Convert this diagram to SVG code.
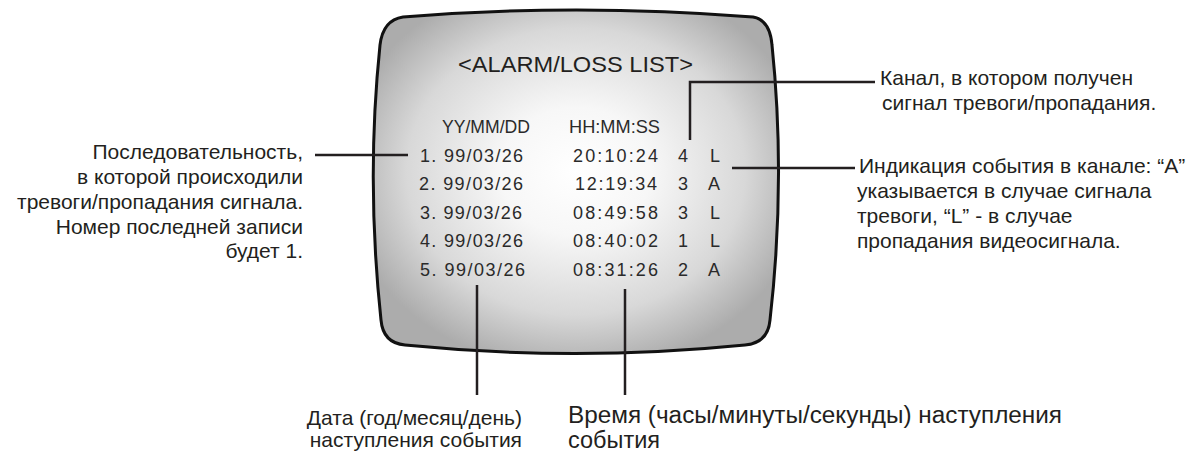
<svg xmlns="http://www.w3.org/2000/svg" width="1198" height="453" viewBox="0 0 1198 453">
<defs>
<radialGradient id="scr" cx="0.5" cy="0.47" r="0.58">
<stop offset="0" stop-color="#ffffff"/>
<stop offset="0.32" stop-color="#f7f7f7"/>
<stop offset="0.72" stop-color="#d8d8d8"/>
<stop offset="1" stop-color="#acacac"/>
</radialGradient>
<style>
.t{font-family:"Liberation Sans",Arial,sans-serif;fill:#231f20}
.s{font-size:18px;fill:#2a2a2a}
.lb{font-size:21px}
.ln{stroke:#231f20;stroke-width:2.5;fill:none}
</style>
</defs>
<rect width="1198" height="453" fill="#ffffff"/>
<g id="screen">
<path d="M403,17 Q575,3 753,17 Q770,20 772,45 Q786,180 770,320 Q768,343 745,345 Q575,362 405,345 Q383,343 381,320 Q366,180 380,45 Q383,20 403,17 Z" fill="url(#scr)" stroke="#111" stroke-width="3"/>
<text class="t" x="458" y="72" font-size="22" textLength="235" lengthAdjust="spacingAndGlyphs" fill="#2a2a2a">&lt;ALARM/LOSS LIST&gt;</text>
<text class="t s" x="442" y="133" textLength="88" lengthAdjust="spacingAndGlyphs">YY/MM/DD</text>
<text class="t s" x="569" y="133" textLength="91" lengthAdjust="spacingAndGlyphs">HH:MM:SS</text>
<g id="rows">
<text class="t s" x="420" y="161.5" textLength="103" lengthAdjust="spacing">1. 99/03/26</text>
<text class="t s" x="573" y="161.5" textLength="85" lengthAdjust="spacing">20:10:24</text>
<text class="t s" x="678" y="161.5">4</text>
<text class="t s" x="710" y="161.5">L</text>
<text class="t s" x="419" y="190" textLength="104" lengthAdjust="spacing">2. 99/03/26</text>
<text class="t s" x="575" y="190" textLength="82" lengthAdjust="spacing">12:19:34</text>
<text class="t s" x="678" y="190">3</text>
<text class="t s" x="708" y="190">A</text>
<text class="t s" x="420" y="218.5" textLength="102" lengthAdjust="spacing">3. 99/03/26</text>
<text class="t s" x="573" y="218.5" textLength="85" lengthAdjust="spacing">08:49:58</text>
<text class="t s" x="678" y="218.5">3</text>
<text class="t s" x="710" y="218.5">L</text>
<text class="t s" x="420" y="247" textLength="103" lengthAdjust="spacing">4. 99/03/26</text>
<text class="t s" x="573" y="247" textLength="85" lengthAdjust="spacing">08:40:02</text>
<text class="t s" x="678" y="247">1</text>
<text class="t s" x="710" y="247">L</text>
<text class="t s" x="420" y="275.5" textLength="105" lengthAdjust="spacing">5. 99/03/26</text>
<text class="t s" x="573" y="275.5" textLength="85" lengthAdjust="spacing">08:31:26</text>
<text class="t s" x="678" y="275.5">2</text>
<text class="t s" x="708" y="275.5">A</text>
</g>
</g>
<g id="connectors">
<line class="ln" x1="315" y1="155" x2="408" y2="155"/>
<polyline class="ln" points="690,140 690,82 875,82"/>
<line class="ln" x1="732" y1="168" x2="855" y2="168"/>
<line class="ln" x1="477" y1="285" x2="477" y2="395"/>
<line class="ln" x1="625" y1="289" x2="625" y2="395"/>
</g>
<g id="label-sequence" class="t lb" text-anchor="end">
<text x="303" y="159.3">Последовательность,</text>
<text x="303" y="184">в которой происходили</text>
<text x="303" y="208.8">тревоги/пропадания сигнала.</text>
<text x="303" y="233.5">Номер последней записи</text>
<text x="303" y="258.2">будет 1.</text>
</g>
<g id="label-channel" class="t lb">
<text x="880" y="85">Канал, в котором получен</text>
<text x="882" y="110">сигнал тревоги/пропадания.</text>
</g>
<g id="label-event" class="t lb">
<text x="859" y="173.3">Индикация события в канале: “A”</text>
<text x="857" y="198.3">указывается в случае сигнала</text>
<text x="857" y="223.3">тревоги, “L” - в случае</text>
<text x="857" y="248.3">пропадания видеосигнала.</text>
</g>
<g id="label-date" class="t lb" text-anchor="end">
<text x="522" y="425">Дата (год/месяц/день)</text>
<text x="522" y="447.3">наступления события</text>
</g>
<g id="label-time" class="t" font-size="23">
<text x="568" y="422.5" textLength="494" lengthAdjust="spacingAndGlyphs">Время (часы/минуты/секунды) наступления</text>
<text x="568" y="448" textLength="92" lengthAdjust="spacingAndGlyphs">события</text>
</g>
</svg>
